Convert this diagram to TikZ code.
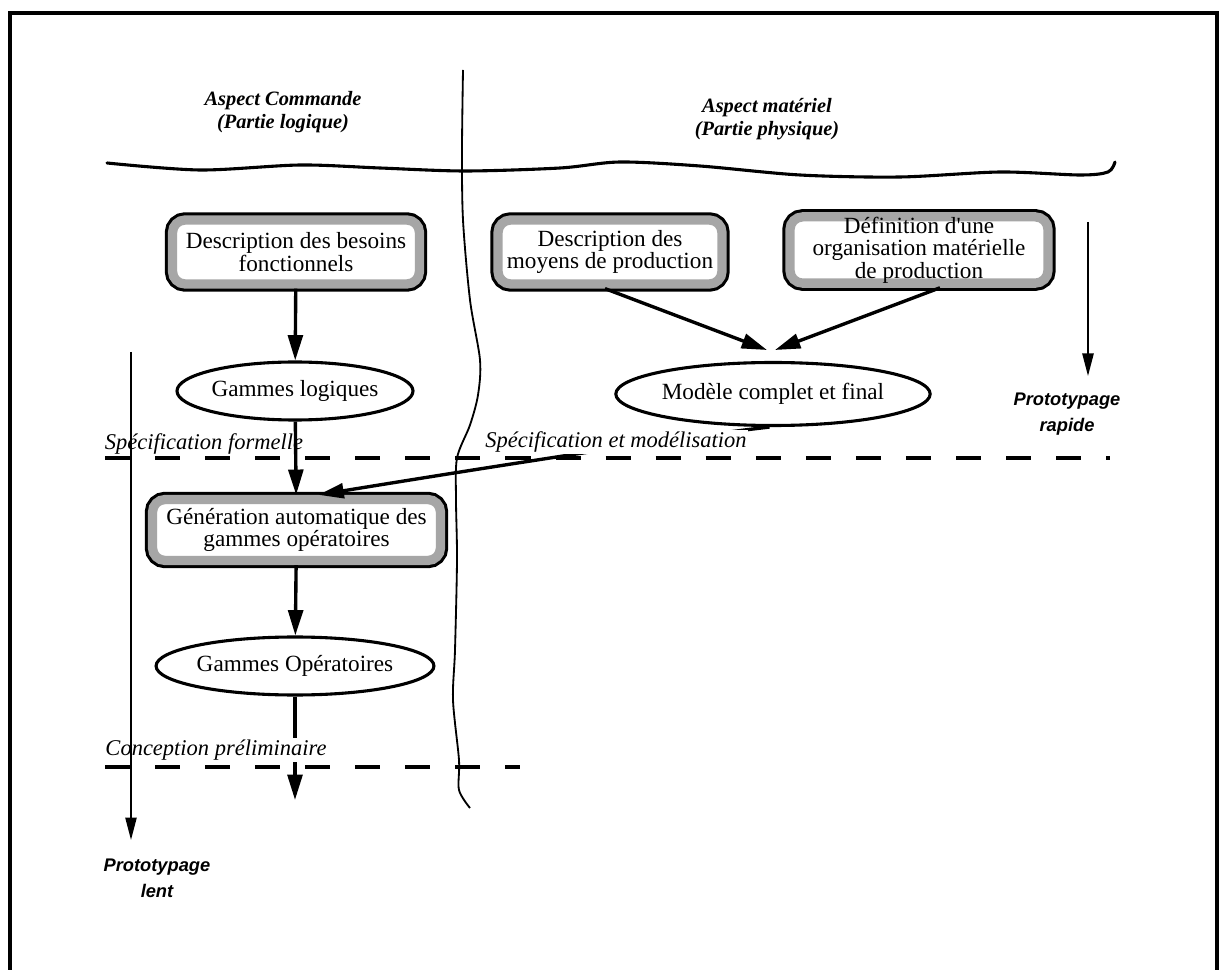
\documentclass[tikz,border=0pt]{standalone}
\usepackage{fontspec}
\setmainfont{Liberation Serif}[Ligatures=TeXOff]
\newfontfamily\protofont{Liberation Sans}
\usetikzlibrary{arrows.meta,shapes.geometric}

\tikzset{
  % rounded box with a grey band and a black outer rim
  hbox/.style={rectangle, rounded corners=9pt, align=center, inner sep=0pt,
    fill=white, draw=gray!70, line width=6.6pt,
    preaction={draw=black, line width=11pt},
    font=\fontsize{16.5pt}{16pt}\selectfont},
  oval/.style={ellipse, draw=black, line width=2.2pt, inner sep=0pt, fill=white,
    font=\fontsize{16.5pt}{18pt}\selectfont},
  flow/.style={line width=2.4pt, -{Triangle[length=18pt,width=10.5pt]}},
  thinflow/.style={line width=1.2pt, -{Triangle[length=16pt,width=8pt]}},
  phase/.style={line width=3pt, dash pattern=on 17.8pt off 17.8pt},
  heading/.style={align=center, font=\fontsize{14.5pt}{16.4pt}\selectfont\bfseries\itshape},
  stage/.style={inner sep=0pt, font=\fontsize{16pt}{18pt}\selectfont\itshape},
  proto/.style={align=center, inner sep=0pt,
    font=\protofont\fontsize{13pt}{18.5pt}\selectfont\bfseries\itshape}
}

\begin{document}
\begin{tikzpicture}[x=0.025cm, y=-0.025cm]
\useasboundingbox (0,0) rectangle (1223,970);

% outer frame, open at the bottom
\draw[line width=3pt] (10,975) -- (10,13) -- (1217,13) -- (1217,975);

% column headings
\node[heading] (hcmd) at (283,112) {Aspect Commande\\(Partie logique)};
\node[heading] (hmat) at (767,119) {Aspect matériel\\(Partie physique)};

% hand-drawn separators
\draw[line width=2.2pt, line cap=round] plot[smooth] coordinates {
  (107,163) (200,170) (300,165) (380,168) (465,171) (560,168) (620,162)
  (700,166) (800,175) (900,177) (1000,172) (1080,175) (1108,172) (1115,162)};
\draw[line width=1.3pt] plot[smooth] coordinates {
  (463,70) (462,150) (463,220) (470,300) (480,360) (478,395) (470,425)
  (457,458) (456,500) (457,560) (455,650) (453,700) (459,760) (459,790) (470,808)};

% phase boundaries
\draw[phase] (105,458) -- (1110,458);
\draw[phase] (105,767) -- (520,767);

% boxes and ellipses
\node[hbox, minimum width=247*0.025cm, minimum height=64*0.025cm] (besoins) at (296,252)
  {Description des besoins\\fonctionnels};
\node[hbox, minimum width=224*0.025cm, minimum height=64*0.025cm] (moyens) at (610,252)
  {Description des\\moyens de production};
\node[hbox, minimum width=258*0.025cm, minimum height=65*0.025cm] (orga) at (919,250)
  {Définition d'une\\organisation matérielle\\de production};
\node[oval, minimum width=214*0.025cm, minimum height=58*0.025cm] (glog) at (295,391)
  {Gammes logiques};
\node[oval, minimum width=283*0.025cm, minimum height=63*0.025cm] (modele) at (773,394)
  {Modèle complet et final};
\node[hbox, minimum width=288*0.025cm, minimum height=61*0.025cm] (gener) at (296.5,530)
  {Génération automatique des\\gammes opératoires};
\node[oval, minimum width=260*0.025cm, minimum height=58*0.025cm] (gop) at (295,666)
  {Gammes Opératoires};

% connectors
\coordinate (conc) at (295,800);
\draw[flow] (besoins) -- (glog);
\draw[flow] ([xshift=-5*0.025cm]moyens.south) -- (767,350);
\draw[flow] ([xshift=21*0.025cm]orga.south) -- (775,350);
\draw[flow] (glog) -- (gener);
\draw[flow] (modele.-96) .. controls (690,436) and (520,462) .. ([xshift=22*0.025cm]gener.north);
\draw[flow] (gener) -- (gop);
\draw[flow] (gop) -- (conc);

% phase labels
\node[stage] (sform) at (204,444) {Spécification formelle};
\node[stage, fill=white, inner sep=1pt] (smod) at (616,442) {Spécification et modélisation};
\node[stage, fill=white, inner sep=1pt] (cprel) at (216,750) {Conception préliminaire};

% prototyping paths
\coordinate (lentA) at (131,352);
\coordinate (lentB) at (131,840);
\coordinate (rapA) at (1088,222);
\coordinate (rapB) at (1088,376);
\draw[thinflow] (lentA) -- (lentB);
\draw[thinflow] (rapA) -- (rapB);
\node[proto] (plent) at (157,878) {Prototypage\\lent};
\node[proto] (prap) at (1067,414) {Prototypage\\rapide};
\end{tikzpicture}
\end{document}
